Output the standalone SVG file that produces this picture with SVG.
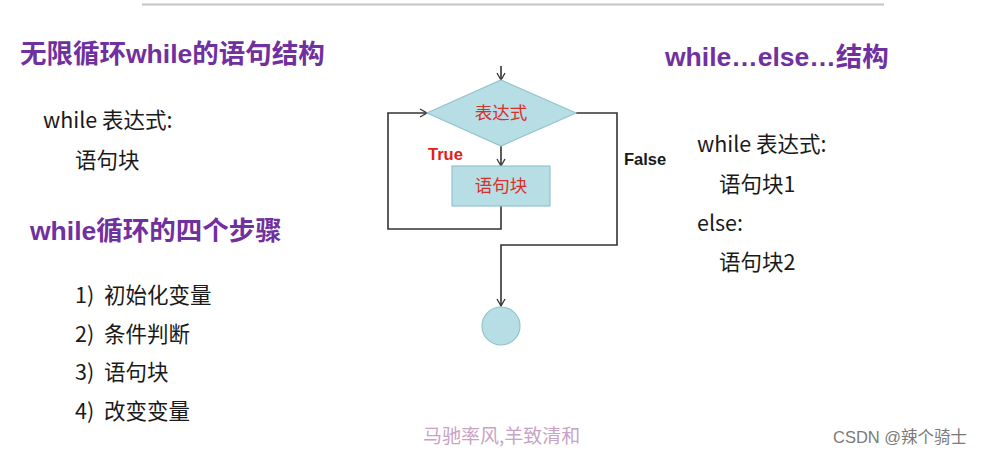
<svg xmlns="http://www.w3.org/2000/svg" width="984" height="454" viewBox="0 0 984 454">
<style>
.title{font-family:"Liberation Sans","Noto Sans CJK SC",sans-serif;font-weight:bold;font-size:26.5px;fill:#7030a0}
.body{font-family:"Noto Sans CJK SC",sans-serif;font-size:21.5px;fill:#1a1a1a}
.shape{fill:#b7dde5;stroke:#93c4ce;stroke-width:1.2}
.lbl{font-family:"Noto Sans CJK SC",serif;font-size:17.5px;fill:#d8302a;text-anchor:middle}
.edge{fill:none;stroke:#333;stroke-width:1.6}
.branch{font-family:"Liberation Sans",sans-serif;font-weight:bold;font-size:16.5px}
</style>
<defs>
<marker id="arr" markerWidth="10" markerHeight="10" refX="8" refY="5" orient="auto" markerUnits="userSpaceOnUse">
<polyline points="1,1 8,5 1,9" fill="none" stroke="#333" stroke-width="1.3"/>
</marker>
</defs>
<rect width="984" height="454" fill="#ffffff"/>
<line x1="142" y1="4.5" x2="884" y2="4.5" stroke="#c4c4c4" stroke-width="2"/>

<g id="left-text">
<text class="title" x="20" y="63">无限循环while的语句结构</text>
<text class="body" x="43" y="128">while 表达式:</text>
<text class="body" x="75" y="168">语句块</text>
<text class="title" x="30" y="240">while循环的四个步骤</text>
<text class="body" x="75" y="303">1)<tspan x="104">初始化变量</tspan></text>
<text class="body" x="75" y="342">2)<tspan x="104">条件判断</tspan></text>
<text class="body" x="75" y="380">3)<tspan x="104">语句块</tspan></text>
<text class="body" x="75" y="419">4)<tspan x="104">改变变量</tspan></text>
</g>

<g id="right-text">
<text class="title" x="665" y="66">while…else…结构</text>
<text class="body" x="697" y="152">while 表达式:</text>
<text class="body" x="719" y="192">语句块1</text>
<text class="body" x="697" y="231">else:</text>
<text class="body" x="719" y="270">语句块2</text>
</g>

<g id="connectors">
<line class="edge" x1="501" y1="66" x2="501" y2="80" marker-end="url(#arr)"/>
<line class="edge" x1="501" y1="146" x2="501" y2="166" marker-end="url(#arr)"/>
<polyline class="edge" points="501,206 501,229 388,229 388,113 427,113" marker-end="url(#arr)"/>
<polyline class="edge" points="576,113 617,113 617,245 501,245 501,306" marker-end="url(#arr)"/>
<text class="branch" x="428" y="160" fill="#e0201a">True</text>
<text class="branch" x="624" y="165" fill="#1a1a1a">False</text>
</g>

<g id="cond">
<polygon class="shape" points="501,80 576,113 501,146 427,113"/>
<text class="lbl" x="501" y="119">表达式</text>
</g>
<g id="block">
<rect class="shape" x="452" y="166" width="98" height="40"/>
<text class="lbl" x="501" y="192">语句块</text>
</g>
<g id="end">
<circle class="shape" cx="501" cy="326" r="19"/>
</g>

<g id="footer">
<text x="423" y="443" font-family="Noto Sans CJK SC,sans-serif" font-size="19" fill="#c9a3c6">马驰率风,羊致清和</text>
<text x="833" y="443" font-family="Liberation Sans,Noto Sans CJK SC,sans-serif" font-size="16.5" fill="#7a7a7a">CSDN @辣个骑士</text>
</g>
</svg>
